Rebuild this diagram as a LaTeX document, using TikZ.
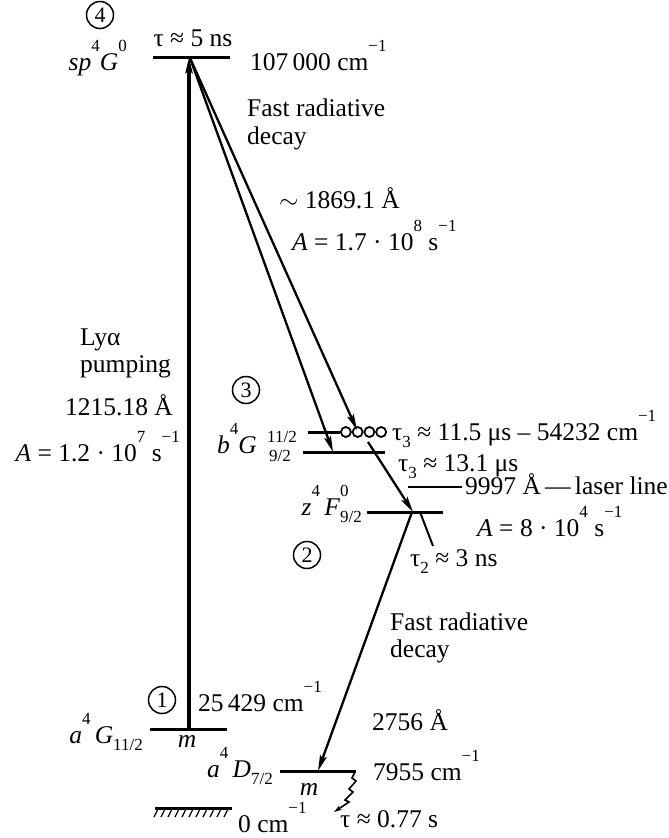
\documentclass[tikz,border=0pt]{standalone}
\usepackage{fontspec}
\setmainfont{Liberation Serif}
\usetikzlibrary{arrows.meta}
\newcommand{\upx}[1]{\raisebox{0.72em}{\fontsize{17}{17}\selectfont #1}}
\newcommand{\dnx}[1]{\raisebox{-0.3em}{\fontsize{17}{17}\selectfont #1}}
\begin{document}
\begin{tikzpicture}[x=1pt,y=-1pt,
  every node/.style={font=\fontsize{25.5}{29}\selectfont, inner sep=0pt},
  level/.style={line width=3pt},
  arr/.style={line width=2.3pt,-{Stealth[length=16pt,width=7pt,inset=3pt]}},
  num/.style={circle,draw,line width=1.5pt,minimum size=27pt,inner sep=0pt,font=\fontsize{22}{22}\selectfont},
  ring/.style={circle,draw,line width=1.8pt,minimum size=10pt,inner sep=0pt},
  lbl/.style={anchor=base west},
  lblr/.style={anchor=base east},
  small/.style={anchor=base west,font=\fontsize{17}{17}\selectfont}]
\useasboundingbox (0,0) rectangle (669,838);
% level coordinates
\coordinate (T1) at (153,57); \coordinate (T2) at (230,57);
\coordinate (B11a) at (308,432); \coordinate (B11b) at (340,432);
\coordinate (B9a) at (303,452); \coordinate (B9b) at (385,452);
\coordinate (La) at (408,487); \coordinate (Lb) at (462,487);
\coordinate (Za) at (367,512); \coordinate (Zb) at (443,512);
\coordinate (AGa) at (150,729); \coordinate (AGb) at (227,729);
\coordinate (ADa) at (280,771); \coordinate (ADb) at (356,771);
\coordinate (Ga) at (155,808); \coordinate (Gb) at (232,808);
% levels
\draw[level] (T1) -- (T2);
\draw[level] (B11a) -- (B11b);
\draw[level] (B9a) -- (B9b);
\draw[line width=2.5pt] (La) -- (Lb);
\draw[level] (Za) -- (Zb);
\draw[level] (AGa) -- (AGb);
\draw[level] (ADa) -- (ADb);
\draw[level] (Ga) -- (Gb);
\foreach \k in {0,...,10} \draw[line width=1.3pt] ({158+7*\k},809) -- ({154+7*\k},817);
\foreach \i in {0,...,3} \node[ring] (c\i) at ({345.9+11.75*\i},432) {};
% transition points
\coordinate (AGm) at (189,729); \coordinate (Tm) at (189,57);
\coordinate (Ts) at (190,58);
\coordinate (B9t) at (333,452); \coordinate (B11t) at (357,430);
\coordinate (Bs) at (368,442); \coordinate (Zt) at (413,512);
\coordinate (Zs) at (412,512); \coordinate (ADt) at (318,771);
\coordinate (Z2) at (420,512); \coordinate (T2e) at (433,546);
\coordinate (Ws) at (355,772); \coordinate (We) at (334,812);
% arrows
\draw[arr,line width=3.5pt] (AGm) -- (Tm);
\draw[arr] (Ts) -- (B9t);
\draw[arr] (Ts) -- (B11t);
\draw[arr] (Bs) -- (Zt);
\draw[arr] (Zs) -- (ADt);
\draw[line width=2pt] (Z2) -- (T2e);
\draw[line width=1.6pt,-{Stealth[length=8pt,width=5pt]}] (Ws) -- (352,778) -- (356,781) -- (349,789) -- (353,792) -- (345,800) -- (349,802) -- (We);
% labels
\node[num] (n4) at (100,15) {4};
\node[anchor=base] (tau5) at (193,46) {τ ≈ 5 ns};
\node[lbl] (e107) at (250,70) {107\,000 cm\upx{−1}};
\node[lblr] (spG) at (127,70) {\textit{sp}\upx{4}\textit{G}\upx{0}};
\node[lbl] (frd1) at (247,116) {Fast radiative};
\node[lbl] (dec1) at (247,144) {decay};
\node[lbl] (w1869) at (279,208) {$\sim$ 1869.1 Å};
\node[lbl] (A17) at (292,250) {\textit{A} = 1.7 · 10\upx{8} s\upx{−1}};
\node[lbl] (lya) at (80,345) {Lyα};
\node[lbl] (pump) at (80,372) {pumping};
\node[lblr] (w1215) at (173,415) {1215.18 Å};
\node[lblr] (A12) at (180,461) {\textit{A} = 1.2 · 10\upx{7} s\upx{−1}};
\node[num] (n3) at (246,390) {3};
\node[lbl] (bG) at (217,453) {\textit{b}\upx{4}\textit{G}};
\node[small] (j11) at (267,442) {11/2};
\node[small] (j9) at (269,461) {9/2};
\node[lbl] (tau3a) at (392,440) {τ\dnx{3} ≈ 11.5 μs – 54232 cm\upx{−1}};
\node[lbl] (tau3b) at (398,471) {τ\dnx{3} ≈ 13.1 μs};
\node[lbl] (las) at (465,494) {9997 Å\,—\,laser line};
\node[lblr] (zF) at (362,515) {\textit{z}\upx{4}\,\textit{F}\rlap{\upx{0}}\dnx{9/2}};
\node[lbl] (A8) at (477,536) {\textit{A} = 8 · 10\upx{4} s\upx{−1}};
\node[num] (n2) at (307,555) {2};
\node[lbl] (tau2) at (410,566) {τ\dnx{2} ≈ 3 ns};
\node[lbl] (frd2) at (390,630) {Fast radiative};
\node[lbl] (dec2) at (390,657) {decay};
\node[lbl] (w2756) at (372,730) {2756 Å};
\node[num] (n1) at (162,700) {1};
\node[lbl] (e25) at (198,711) {25\,429 cm\upx{−1}};
\node[lblr] (aG) at (143,743) {\textit{a}\upx{4}\,\textit{G}\dnx{11/2}};
\node[anchor=base] (m1) at (187,747) {\textit{m}};
\node[lblr] (aD) at (273,777) {\textit{a}\upx{4}\,\textit{D}\dnx{7/2}};
\node[anchor=base] (m2) at (309,795) {\textit{m}};
\node[lbl] (e7955) at (373,780) {7955 cm\upx{−1}};
\node[lbl] (tau077) at (340,827) {τ ≈ 0.77 s};
\node[lbl] (e0) at (238,832) {0 cm\upx{−1}};
\end{tikzpicture}
\end{document}
